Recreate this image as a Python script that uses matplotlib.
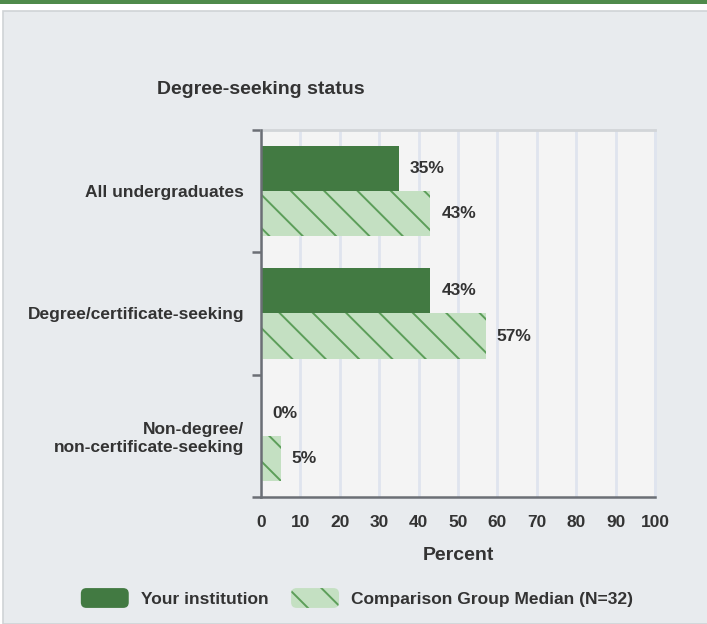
import matplotlib
matplotlib.use("Agg")
import matplotlib.pyplot as plt
from matplotlib.patches import Rectangle, Patch, FancyBboxPatch
from matplotlib.legend_handler import HandlerPatch
import numpy as np

# ---- data ----
categories = ["All undergraduates", "Degree/certificate-seeking", "Non-degree/\nnon-certificate-seeking"]
institution = [35, 43, 0]
comparison = [43, 57, 5]
xticks = [0, 10, 20, 30, 40, 50, 60, 70, 80, 90, 100]
series_names = ["Your institution", "Comparison Group Median (N=32)"]
title = "Degree-seeking status"
xlabel = "Percent"

plt.rcParams['font.family'] = ['Liberation Sans', 'DejaVu Sans']
plt.rcParams['hatch.linewidth'] = 1.4
TXT = "#333333"
DARK = "#427a42"
LIGHT = "#c4e0c2"
HATCH = "#5c9e59"
GRID = "#dfe4ee"

W, H = 707, 624
fig = plt.figure(figsize=(W / 100, H / 100), dpi=100)
fig.patch.set_facecolor("white")

# top green band and panel
fig.add_artist(Rectangle((0, 1 - 4 / H), 1, 4 / H, transform=fig.transFigure,
                         facecolor="#4f8a4b", edgecolor="none", zorder=0))
fig.add_artist(Rectangle((3 / W, 0), 1.0, 1 - 11 / H, transform=fig.transFigure,
                         facecolor="#e8ebee", edgecolor="#cfd3d6", linewidth=1.2, zorder=0))

ax = fig.add_axes([261 / W, 1 - 497 / H, (655 - 261) / W, (497 - 130) / H])
ax.set_facecolor("#f4f4f4")

y = np.arange(len(categories))
h = 0.37
off = 0.185
ax.barh(y - off, institution, height=h, color=DARK, zorder=3)
ax.barh(y + off, comparison, height=h, facecolor=LIGHT, edgecolor=HATCH,
        linewidth=0, hatch="\\", zorder=3)

for yi, v in zip(y, institution):
    ax.annotate(f"{v}%", (v, yi - off), xytext=(8, 0), textcoords="offset points",
                va="center", ha="left", fontsize=12.5, fontweight="bold", color=TXT)
for yi, v in zip(y, comparison):
    ax.annotate(f"{v}%", (v, yi + off), xytext=(8, 0), textcoords="offset points",
                va="center", ha="left", fontsize=12.5, fontweight="bold", color=TXT)

ax.set_xlim(0, 100)
ax.set_ylim(len(categories) - 0.5, -0.5)
ax.set_xticks(xticks)
ax.set_xticklabels([str(t) for t in xticks], fontsize=12.5, fontweight="bold", color=TXT)
ax.tick_params(axis="x", length=0, pad=13)
ax.set_yticks(y)
ax.set_yticklabels(categories, fontsize=12.5, fontweight="bold", color=TXT)
ax.tick_params(axis="y", which="major", length=0, pad=12)
ax.set_yticks(np.arange(len(categories) + 1) - 0.5, minor=True)
ax.tick_params(axis="y", which="minor", length=6.5, width=1.8, color="#6b6f75")
ax.grid(axis="x", color=GRID, linewidth=2, zorder=0)
ax.set_axisbelow(True)

for s in ["left", "bottom"]:
    ax.spines[s].set_color("#6b6f75")
    ax.spines[s].set_linewidth(1.8)
    ax.spines[s].set_zorder(5)
ax.spines["top"].set_color("#d2d5d8")
ax.spines["top"].set_linewidth(2)
ax.spines["right"].set_color(GRID)
ax.spines["right"].set_linewidth(2)

ax.set_xlabel(xlabel, fontsize=14, fontweight="bold", color=TXT, labelpad=12)
fig.text(261 / W, 1 - 90 / H, title, ha="center", va="center", fontsize=14,
         fontweight="bold", color=TXT)


class RoundHandler(HandlerPatch):
    def create_artists(self, legend, orig_handle, xdescent, ydescent, width, height,
                       fontsize, trans):
        p = FancyBboxPatch((-xdescent, -ydescent), width, height,
                           boxstyle="round,pad=0,rounding_size=4",
                           facecolor=orig_handle.get_facecolor(),
                           edgecolor=orig_handle.get_edgecolor(),
                           linewidth=0, hatch=orig_handle.get_hatch())
        p.set_transform(trans)
        return [p]


handles = [Patch(facecolor=DARK, edgecolor=DARK, linewidth=0),
           Patch(facecolor=LIGHT, edgecolor=HATCH, linewidth=0, hatch="\\")]
leg = fig.legend(handles, series_names, loc="center", bbox_to_anchor=(357 / W, 1 - 598 / H),
                 ncol=2, frameon=False, fontsize=12.5, handlelength=2.76, handleheight=1.38,
                 columnspacing=1.3, handletextpad=0.7,
                 handler_map={Patch: RoundHandler()})
for t in leg.get_texts():
    t.set_fontweight("bold")
    t.set_color(TXT)

fig.savefig("out.png", dpi=100, facecolor=fig.get_facecolor())
